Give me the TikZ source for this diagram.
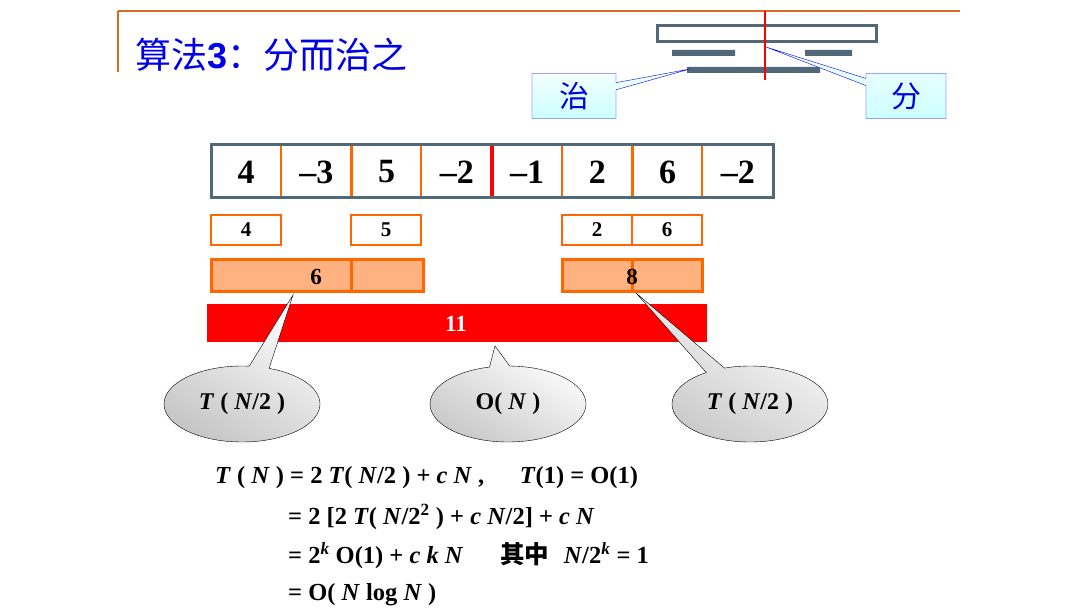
\documentclass[tikz,border=0pt]{standalone}
\usepackage{fontspec}
\setmainfont{Liberation Serif}
\newfontfamily\cjk{Noto Sans CJK SC}
\newfontfamily\cjkb{Noto Sans CJK SC Bold}
\usetikzlibrary{shapes.callouts,shapes.geometric}
\definecolor{og}{RGB}{255,102,0}
\definecolor{lo}{RGB}{255,178,128}
\definecolor{sl}{RGB}{80,104,120}
\definecolor{tb}{RGB}{0,0,230}
\begin{document}
\begin{tikzpicture}[x=1pt,y=-1pt,
  cell/.style={draw=none,minimum width=70pt,minimum height=52pt,font=\bfseries\fontsize{34}{34}\selectfont,inner sep=0},
  sm/.style={draw=og,line width=1.2pt,minimum width=70pt,minimum height=30pt,font=\bfseries\fontsize{21}{21}\selectfont,inner sep=0},
  bub/.style={ellipse callout,draw=black,top color=white,bottom color=black!22,shading angle=-30,minimum width=156pt,minimum height=76pt,font=\bfseries\fontsize{24}{24}\selectfont},
  cbox/.style={rectangle callout,draw=tb,top color=cyan!3,bottom color=cyan!20,minimum width=84pt,minimum height=45pt,font=\cjk\fontsize{30}{30}\selectfont\color{tb}},
  eq/.style={anchor=west,font=\bfseries\fontsize{24.5}{24.5}\selectfont,inner sep=0}]
\useasboundingbox (0,0) rectangle (1092,612);
% header
\draw[color={rgb,255:red,210;green,110;blue,30},line width=1.2pt] (118,11) -- (960,11) (118,11) -- (118,72);
\node[anchor=west,text=tb,font=\cjk\fontsize{36}{36}\selectfont,inner sep=0] (title) at (135,55) {算法\textbf{\fontspec{Liberation Sans}3}：分而治之};
% icon
\draw[sl,line width=3pt] (657,26) rectangle (876,42);
\fill[sl] (672,50) rectangle (735,56) (805,50) rectangle (852,56) (687,67) rectangle (820,73);
\draw[red,line width=2.5pt] (765,11) -- (765,80);
\coordinate (zp) at (690,69);
\coordinate (fp) at (766,47);
\node[cbox,callout absolute pointer=(zp)] (zhi) at (574,96) {治};
\node[cbox,callout absolute pointer=(fp),minimum width=80pt] (fen) at (906,96) {分};
% array
\foreach \v [count=\i] in {4,--3,5,--2,--1,2,6,--2}
  \node[cell] (c\i) at ({211+70.25*(\i-0.5)},172) {\v};
\draw[og,line width=1.2pt] (281,146) -- (281,197) (421,146) -- (421,197) (562,146) -- (562,197) (702,146) -- (702,197);
\draw[og,line width=3pt] (351,146) -- (351,197) (632,146) -- (632,197);
\draw[red,line width=4pt] (492,146) -- (492,197);
\draw[sl,line width=3pt] (211,145) rectangle (773,198);
% small
\node[sm] (s1) at (246,230) {4};
\node[sm] (s3) at (386,230) {5};
\node[sm] (s6) at (597,230) {2};
\node[sm] (s7) at (667,230) {6};
% sums
\draw[og,fill=lo,line width=3pt] (211,260) rectangle (351,292) (351,260) rectangle (423,292)
  (562,260) rectangle (632,292) (632,260) rectangle (702,292);
\node[font=\bfseries\fontsize{23}{23}\selectfont] (six) at (316,277) {6};
\node[font=\bfseries\fontsize{23}{23}\selectfont] (eight) at (632,277) {8};
\fill[red] (207,304) rectangle (707,342);
\node[text=white,font=\bfseries\fontsize{23}{23}\selectfont] (eleven) at (456,324) {11};
% bubbles
\coordinate (p1) at (293,295);
\coordinate (p2) at (495,346);
\coordinate (p3) at (636,293);
\node[bub,callout absolute pointer=(p1)] (b1) at (242,404) {\textit{T} ( \textit{N}/2 )};
\node[bub,callout absolute pointer=(p2)] (b2) at (508,404) {O( \textit{N} )};
\node[bub,callout absolute pointer=(p3)] (b3) at (750,404) {\textit{T} ( \textit{N}/2 )};
% equations
\node[eq] (e1) at (215,478) {\textit{T} ( \textit{N} ) = 2 \textit{T}( \textit{N}/2 ) + \textit{c N} ,\hspace{1.2em} \textit{T}(1) = O(1)};
\node[eq] (e2) at (288,517) {= 2 [2 \textit{T}( \textit{N}/2\textsuperscript{2} ) + \textit{c N}/2] + \textit{c N}};
\node[eq] (e3) at (288,556) {= 2\textsuperscript{\textit{k}} O(1) + \textit{c k N}\hspace{1.5em}{\cjkb 其中}\hspace{0.6em}\textit{N}/2\textsuperscript{\textit{k}} = 1};
\node[eq] (e4) at (288,595) {= O( \textit{N} log \textit{N} )};
\end{tikzpicture}
\end{document}
